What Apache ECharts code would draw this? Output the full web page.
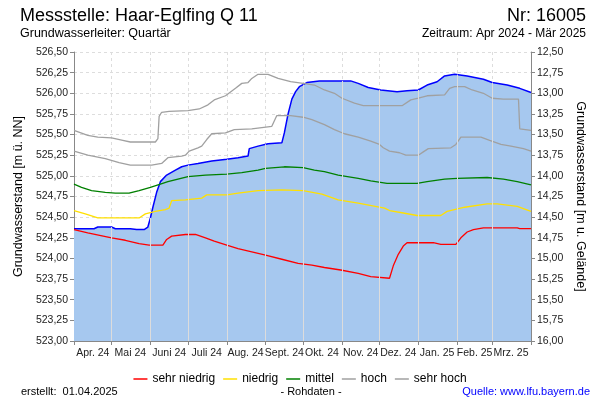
<!DOCTYPE html>
<html>
<head>
<meta charset="utf-8">
<script src="https://cdn.jsdelivr.net/npm/echarts@6/dist/echarts.min.js"></script>
<style>
html,body{margin:0;padding:0;background:#fff;}
#chart{width:600px;height:400px;}
</style>
</head>
<body>
<div id="chart"></div>
<script>
// ---- data ----
const monthLabels = ['Apr. 24','Mai 24','Juni 24','Juli 24','Aug. 24','Sept. 24','Okt. 24','Nov. 24','Dez. 24','Jan. 25','Feb. 25','Mrz. 25'];
const labelDays = ['2024-04-16','2024-05-16','2024-06-16','2024-07-16','2024-08-16','2024-09-16','2024-10-16','2024-11-16','2024-12-16','2025-01-16','2025-02-15','2025-03-16'];
const startDate = '2024-04-01';
const endDate = '2025-04-01';

const aktuell = [
['2024-04-01',524.36],['2024-04-17',524.36],['2024-04-20',524.38],['2024-05-01',524.38],['2024-05-04',524.36],
['2024-05-16',524.36],['2024-05-21',524.35],['2024-05-27',524.35],['2024-05-30',524.38],['2024-06-01',524.49],
['2024-06-03',524.62],['2024-06-06',524.80],['2024-06-09',524.93],['2024-06-14',525.01],['2024-06-21',525.07],
['2024-06-26',525.11],['2024-07-01',525.13],['2024-07-09',525.15],['2024-07-20',525.18],['2024-08-01',525.20],
['2024-08-10',525.22],['2024-08-18',525.24],['2024-08-19',525.33],['2024-08-26',525.36],['2024-09-03',525.39],
['2024-09-14',525.40],['2024-09-16',525.52],['2024-09-19',525.75],['2024-09-22',525.93],['2024-09-25',526.02],
['2024-09-28',526.08],['2024-10-04',526.13],['2024-10-14',526.15],['2024-11-08',526.15],['2024-11-14',526.12],
['2024-11-22',526.07],['2024-12-02',526.04],['2024-12-15',526.02],['2024-12-23',526.03],['2025-01-01',526.04],
['2025-01-08',526.10],['2025-01-16',526.14],['2025-01-22',526.21],['2025-01-30',526.23],['2025-02-09',526.21],
['2025-02-22',526.17],['2025-03-01',526.13],['2025-03-13',526.10],['2025-03-23',526.06],['2025-04-01',526.01]
];
const sehrNiedrig = [
['2024-04-01',524.35],['2024-04-12',524.31],['2024-05-01',524.25],['2024-05-12',524.22],['2024-05-23',524.18],
['2024-05-31',524.16],['2024-06-11',524.16],['2024-06-14',524.23],['2024-06-18',524.27],['2024-06-29',524.29],
['2024-07-07',524.29],['2024-07-15',524.25],['2024-07-22',524.21],['2024-08-01',524.16],['2024-08-10',524.12],
['2024-08-21',524.08],['2024-09-01',524.04],['2024-09-14',523.99],['2024-09-27',523.94],['2024-10-08',523.92],
['2024-10-18',523.89],['2024-10-31',523.86],['2024-11-14',523.82],['2024-11-24',523.78],['2024-12-09',523.76],
['2024-12-12',523.91],['2024-12-16',524.05],['2024-12-20',524.15],['2024-12-23',524.19],['2025-01-13',524.19],
['2025-01-19',524.17],['2025-01-31',524.17],['2025-02-04',524.25],['2025-02-09',524.32],['2025-02-14',524.35],
['2025-02-22',524.37],['2025-03-21',524.37],['2025-03-23',524.36],['2025-04-01',524.36]
];
const niedrig = [
['2024-04-01',524.58],['2024-04-10',524.54],['2024-04-20',524.49],['2024-05-23',524.49],['2024-05-28',524.54],
['2024-06-05',524.57],['2024-06-13',524.59],['2024-06-16',524.61],['2024-06-18',524.70],['2024-06-29',524.71],
['2024-07-12',524.73],['2024-07-16',524.77],['2024-08-01',524.77],['2024-08-10',524.79],['2024-08-26',524.82],
['2024-09-14',524.83],['2024-10-01',524.82],['2024-10-16',524.78],['2024-10-29',524.71],['2024-11-14',524.67],
['2024-12-05',524.61],['2024-12-09',524.58],['2024-12-20',524.55],['2024-12-31',524.52],['2025-01-19',524.52],
['2025-01-24',524.57],['2025-02-07',524.62],['2025-02-25',524.66],['2025-03-05',524.66],['2025-03-21',524.63],
['2025-04-01',524.57]
];
const mittel = [
['2024-04-01',524.90],['2024-04-07',524.86],['2024-04-15',524.82],['2024-04-26',524.80],['2024-05-04',524.79],
['2024-05-15',524.79],['2024-05-23',524.82],['2024-06-01',524.86],['2024-06-09',524.90],['2024-06-15',524.93],
['2024-06-23',524.96],['2024-07-01',524.99],['2024-07-15',525.01],['2024-08-01',525.02],['2024-08-13',525.04],
['2024-08-26',525.07],['2024-09-01',525.09],['2024-09-16',525.11],['2024-10-01',525.10],['2024-10-10',525.07],
['2024-10-18',525.05],['2024-10-29',525.01],['2024-11-14',524.97],['2024-11-24',524.94],['2024-12-07',524.91],
['2024-12-31',524.91],['2025-01-08',524.93],['2025-01-22',524.96],['2025-02-01',524.97],['2025-02-25',524.98],
['2025-03-10',524.96],['2025-03-21',524.93],['2025-04-01',524.89]
];
const hoch = [
['2024-04-01',525.30],['2024-04-12',525.25],['2024-04-26',525.21],['2024-05-07',525.16],['2024-05-16',525.13],
['2024-06-02',525.13],['2024-06-10',525.15],['2024-06-15',525.22],['2024-06-26',525.24],['2024-06-29',525.25],
['2024-07-02',525.30],['2024-07-09',525.34],['2024-07-12',525.36],['2024-07-16',525.44],['2024-07-20',525.51],
['2024-07-31',525.52],['2024-08-07',525.56],['2024-08-21',525.57],['2024-09-06',525.60],['2024-09-10',525.73],
['2024-09-21',525.73],['2024-10-01',525.71],['2024-10-08',525.68],['2024-10-18',525.62],['2024-10-26',525.56],
['2024-11-03',525.51],['2024-11-14',525.47],['2024-11-24',525.42],['2024-12-01',525.38],['2024-12-04',525.34],
['2024-12-09',525.30],['2024-12-17',525.28],['2024-12-22',525.25],['2025-01-01',525.25],['2025-01-05',525.29],
['2025-01-09',525.33],['2025-01-27',525.34],['2025-01-31',525.38],['2025-02-04',525.47],['2025-02-20',525.47],
['2025-02-27',525.43],['2025-03-08',525.38],['2025-03-16',525.36],['2025-03-26',525.33],['2025-04-01',525.30]
];
const sehrHoch = [
['2024-04-01',525.55],['2024-04-12',525.49],['2024-04-20',525.47],['2024-05-01',525.46],['2024-05-10',525.43],
['2024-05-16',525.41],['2024-06-05',525.41],['2024-06-07',525.45],['2024-06-08',525.72],['2024-06-10',525.77],
['2024-06-16',525.78],['2024-07-01',525.79],['2024-07-10',525.81],['2024-07-17',525.86],['2024-07-22',525.92],
['2024-07-31',525.97],['2024-08-08',526.06],['2024-08-13',526.12],['2024-08-18',526.13],['2024-08-21',526.18],
['2024-08-26',526.23],['2024-09-03',526.23],['2024-09-11',526.18],['2024-09-21',526.14],['2024-10-01',526.12],
['2024-10-10',526.10],['2024-10-18',526.04],['2024-10-26',526.00],['2024-11-01',525.94],['2024-11-11',525.88],
['2024-11-18',525.85],['2024-12-19',525.85],['2024-12-26',525.92],['2025-01-01',525.94],['2025-01-08',525.97],
['2025-01-22',525.98],['2025-01-26',526.06],['2025-01-30',526.08],['2025-02-07',526.08],['2025-02-13',526.04],
['2025-02-22',526.00],['2025-03-01',525.94],['2025-03-10',525.93],['2025-03-22',525.93],['2025-03-23',525.57],
['2025-04-01',525.55]
];
const seriesNames = ['sehr niedrig','niedrig','mittel','hoch','sehr hoch'];
const seriesColors = ['#ff0000','#ffe000','#008000','#a0a0a0','#a0a0a0'];

// ---- build ----
const FONT = '"Liberation Sans", Arial, sans-serif';
const days = [];
for (let t = Date.parse(startDate + 'T00:00:00Z'); t <= Date.parse(endDate + 'T00:00:00Z'); t += 86400000) {
  days.push(new Date(t).toISOString().slice(0, 10));
}
const dayIndex = {};
days.forEach((d, i) => dayIndex[d] = i);
function fmt(v) { return v.toFixed(2).replace('.', ','); }
function valueAt(arr, d) {
  const x = dayIndex[d];
  for (let i = 0; i < arr.length - 1; i++) {
    const a = dayIndex[arr[i][0]], b = dayIndex[arr[i+1][0]];
    if (x >= a && x <= b) return arr[i][1] + (arr[i+1][1] - arr[i][1]) * (x - a) / (b - a);
  }
  return arr[arr.length-1][1];
}
const monthStarts = days.filter((d, i) => d.endsWith('-01') && i > 0 && i < days.length - 1);
const innerLines = monthStarts.map(d => [{coord: [d, 523]}, {coord: [d, valueAt(aktuell, d)]}]);

const refSets = [sehrNiedrig, niedrig, mittel, hoch, sehrHoch];
const series = [{
  name: 'aktuell', type: 'line', data: aktuell, symbol: 'none', z: 2,
  lineStyle: {color: '#0000ff', width: 1.5}, itemStyle: {color: '#0000ff'},
  areaStyle: {color: '#a6c8ef', opacity: 1},
  markLine: {silent: true, symbol: ['none','none'], label: {show: false}, animation: false,
    lineStyle: {color: '#dcdcdc', type: 'solid', width: 1}, data: innerLines}
}];
refSets.forEach((arr, i) => series.push({
  name: seriesNames[i], type: 'line', data: arr, symbol: 'none', z: 3,
  lineStyle: {color: seriesColors[i], width: 1.3}, itemStyle: {color: seriesColors[i]}
}));

const chart = echarts.init(document.getElementById('chart'), null, {renderer: 'canvas'});
chart.setOption({
  animation: false,
  backgroundColor: '#fff',
  textStyle: {fontFamily: FONT},
  grid: {left: 74, right: 69, top: 52, bottom: 59},
  legend: {
    data: seriesNames, top: 368, left: 'center', icon: 'rect', itemWidth: 14, itemHeight: 1.5, itemGap: 8,
    textStyle: {fontSize: 12, color: '#000', fontFamily: FONT}
  },
  xAxis: {
    type: 'category', data: days, boundaryGap: false,
    axisLine: {lineStyle: {color: '#888'}},
    axisTick: {interval: (i, v) => v.endsWith('-01'), length: 4, lineStyle: {color: '#888'}},
    axisLabel: {interval: (i, v) => labelDays.indexOf(v) >= 0,
      formatter: v => { const k = labelDays.indexOf(v); return k >= 0 ? monthLabels[k] : ''; },
      showMinLabel: true, showMaxLabel: true,
      fontSize: 10.5, color: '#222', margin: 7, fontFamily: FONT},
    splitLine: {show: true, interval: (i, v) => v.endsWith('-01'), lineStyle: {color: '#dddddd', type: [3, 3]}}
  },
  yAxis: [{
    type: 'value', position: 'left', min: 523, max: 526.5, interval: 0.25,
    name: 'Grundwasserstand [m ü. NN]', nameLocation: 'middle', nameGap: 42,
    nameTextStyle: {fontSize: 12.5, color: '#000', fontFamily: FONT},
    axisLine: {show: true, lineStyle: {color: '#888'}},
    axisTick: {show: true, length: 4, lineStyle: {color: '#888'}},
    axisLabel: {formatter: fmt, fontSize: 10.5, color: '#222', margin: 6, fontFamily: FONT},
    splitLine: {show: true, lineStyle: {color: '#dddddd', type: [3, 3]}}
  }, {
    type: 'value', position: 'right', min: 12.5, max: 16, interval: 0.25, inverse: true,
    name: 'Grundwasserstand [m u. Gelände]', nameLocation: 'middle', nameGap: 40, nameRotate: -90,
    nameTextStyle: {fontSize: 12.5, color: '#000', fontFamily: FONT},
    axisLine: {show: true, lineStyle: {color: '#888'}},
    axisTick: {show: true, length: 4, lineStyle: {color: '#888'}},
    axisLabel: {formatter: fmt, fontSize: 10.5, color: '#222', margin: 6, fontFamily: FONT},
    splitLine: {show: false}
  }],
  graphic: [
    {type: 'text', x: 20, y: 16, style: {text: 'Messstelle: Haar-Eglfing Q 11', font: '18px ' + FONT, fill: '#000', textAlign: 'left', textVerticalAlign: 'middle'}},
    {type: 'text', x: 586, y: 16, style: {text: 'Nr: 16005', font: '18px ' + FONT, fill: '#000', textAlign: 'right', textVerticalAlign: 'middle'}},
    {type: 'text', x: 20, y: 34, style: {text: 'Grundwasserleiter: Quartär', font: '12.5px ' + FONT, fill: '#000', textAlign: 'left', textVerticalAlign: 'middle'}},
    {type: 'text', x: 586, y: 34, style: {text: 'Zeitraum: Apr 2024 - Mär 2025', font: '12px ' + FONT, fill: '#000', textAlign: 'right', textVerticalAlign: 'middle'}},
    {type: 'text', x: 21, y: 392, style: {text: 'erstellt:  01.04.2025', font: '11px ' + FONT, fill: '#000', textAlign: 'left', textVerticalAlign: 'middle'}},
    {type: 'text', x: 311, y: 392, style: {text: '- Rohdaten -', font: '11px ' + FONT, fill: '#000', textAlign: 'center', textVerticalAlign: 'middle'}},
    {type: 'text', x: 590, y: 392, style: {text: 'Quelle: www.lfu.bayern.de', font: '11px ' + FONT, fill: '#0000ff', textAlign: 'right', textVerticalAlign: 'middle'}}
  ],
  series: series
});
</script>
</body>
</html>
